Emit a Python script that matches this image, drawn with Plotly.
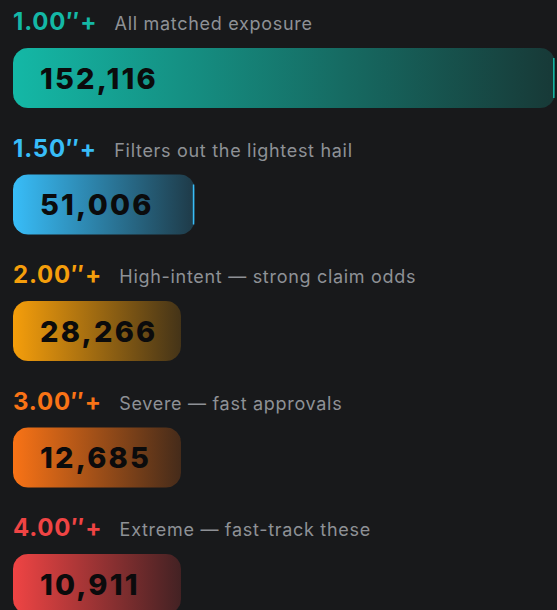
import numpy as np
import plotly.graph_objects as go

# ---- data ----
thresholds = ["1.00″+", "1.50″+", "2.00″+", "3.00″+", "4.00″+"]
descriptions = [
    "All matched exposure",
    "Filters out the lightest hail",
    "High-intent — strong claim odds",
    "Severe — fast approvals",
    "Extreme — fast-track these",
]
counts = [152116, 51006, 28266, 12685, 10911]
colors = ["#14b8a6", "#38bdf8", "#f59e0b", "#f97316", "#ef4444"]

# ---- layout constants (pixels) ----
W, H = 557, 610
BG = "#18191b"
LEFT_PX = 13          # bar start
FULL_PX = 542         # width of the largest bar
MIN_PX = 168          # minimum bar width
ROW_PX = 126.5        # row pitch
FIRST_PX = 78         # centre of first bar
HALF_H_PX = 30        # half bar height
RADIUS_PX = 15

vmax = max(counts)
s = FULL_PX / vmax                  # px per value unit
x_range = [-LEFT_PX / s, (W - LEFT_PX) / s]
y_range = [(H - FIRST_PX) / ROW_PX, -FIRST_PX / ROW_PX]   # reversed
ux = 1 / s                           # value units per px
uy = 1 / ROW_PX                      # row units per px


def hex_rgb(h):
    h = h.lstrip("#")
    return tuple(int(h[i:i + 2], 16) for i in (0, 2, 4))


def rounded_rect(x0, x1, yc, hh, rx, ry, n=12):
    xs, ys = [], []
    corners = [
        (x1 - rx, yc - hh + ry, -np.pi / 2, 0),
        (x1 - rx, yc + hh - ry, 0, np.pi / 2),
        (x0 + rx, yc + hh - ry, np.pi / 2, np.pi),
        (x0 + rx, yc - hh + ry, np.pi, 1.5 * np.pi),
    ]
    for cx, cy, a0, a1 in corners:
        t = np.linspace(a0, a1, n)
        xs.extend(cx + rx * np.cos(t))
        ys.extend(cy + ry * np.sin(t))
    xs.append(xs[0])
    ys.append(ys[0])
    return xs, ys


fig = go.Figure()
annotations = []
min_units = MIN_PX * ux

for i, (thr, desc, v, c) in enumerate(zip(thresholds, descriptions, counts, colors)):
    r, g, b = hex_rgb(c)
    width_units = max(v, min_units)
    xs, ys = rounded_rect(0, width_units, i, HALF_H_PX * uy,
                          RADIUS_PX * ux, RADIUS_PX * uy)
    fig.add_trace(go.Scatter(
        x=xs, y=ys, mode="lines", fill="toself",
        line=dict(width=0, color=c),
        fillgradient=dict(type="horizontal",
                          colorscale=[[0, f"rgba({r},{g},{b},1)"],
                                      [1, f"rgba({r},{g},{b},0.2)"]]),
        hoverinfo="skip", showlegend=False,
    ))
    if v >= min_units:
        xe = width_units - 1.2 * ux
        fig.add_trace(go.Scatter(
            x=[xe, xe], y=[i - 20 * uy, i + 20 * uy], mode="lines",
            line=dict(width=1.5, color=c),
            hoverinfo="skip", showlegend=False,
        ))
    # title line
    annotations.append(dict(
        x=0, y=i - 49 * uy, xref="x", yref="y",
        xanchor="left", yanchor="bottom", showarrow=False,
        text=(f"<span style='letter-spacing:0.8px'><b>{thr}</b></span>"
              f"<span style='font-size:18px;color:#8e9196;font-weight:400;letter-spacing:0.7px'>"
              f"\u00a0\u00a0\u00a0{desc}</span>"),
        font=dict(family="Inter", size=24, color=c),
        xshift=-2, yshift=-9,
    ))
    # value inside bar
    annotations.append(dict(
        x=0, y=i, xref="x", yref="y", xanchor="left", yanchor="middle",
        xshift=25, showarrow=False,
        text=f"<span style='letter-spacing:2.2px'>{v:,}</span>",
        font=dict(family="Inter", size=29, color="#0b0b0c", weight=800),
    ))

fig.update_layout(
    width=W, height=H,
    margin=dict(l=0, r=0, t=0, b=0),
    paper_bgcolor=BG, plot_bgcolor=BG,
    xaxis=dict(range=x_range, visible=False, fixedrange=True),
    yaxis=dict(range=y_range, visible=False, fixedrange=True),
    annotations=annotations,
    showlegend=False,
)

fig.write_html(
    "out.html",
    config={"displayModeBar": False},
    post_script="document.body.style.margin='0';document.body.style.background='#18191b';",
)
